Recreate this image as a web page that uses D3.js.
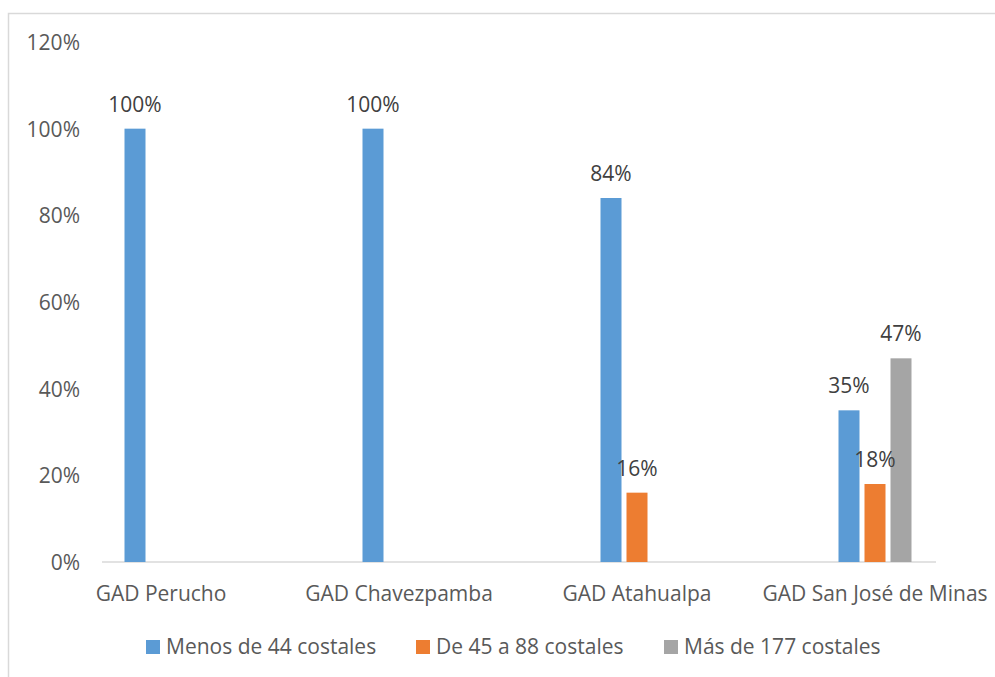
<!DOCTYPE html>
<html>
<head>
<meta charset="utf-8">
<script src="https://cdn.jsdelivr.net/npm/d3@7"></script>
<style>
  body { margin: 0; background: #fff; }
  text { font-family: "Open Sans", sans-serif; }
</style>
</head>
<body>
<div id="chart"></div>
<script>
// Chart data
const categories = ["GAD Perucho", "GAD Chavezpamba", "GAD Atahualpa", "GAD San José de Minas"];
const seriesNames = ["Menos de 44 costales", "De 45 a 88 costales", "Más de 177 costales"];
const menos44 = [1.00, 1.00, 0.84, 0.35];
const de45a88 = [0, 0, 0.16, 0.18];
const mas177 = [0, 0, 0, 0.47];
const yTicks = [0, 0.2, 0.4, 0.6, 0.8, 1.0, 1.2];

const seriesValues = [menos44, de45a88, mas177];
const colors = ["#5b9bd5", "#ed7d31", "#a5a5a5"];

const width = 995;
const height = 677;
const fontSize = "21px";

let svg = d3.select("#chart").append("svg")
            .attr("width", width)
            .attr("height", height)

// outer border
svg.append("rect")
   .attr("x", 8.5).attr("y", 13.5)
   .attr("width", 995).attr("height", 700)
   .attr("fill", "none")
   .attr("stroke", "#d9d9d9")
   .attr("stroke-width", 1.5)

let x0 = d3.scaleBand().domain(categories).range([42, 994])
let x1 = d3.scaleBand().domain(seriesNames)
           .range([x0.bandwidth() / 2 - 36.5, x0.bandwidth() / 2 + 36.5])
           .paddingInner(5 / 26)
let y = d3.scaleLinear().domain([0, 1.2]).range([562, 42])

// y axis labels
let yAxis = svg.append("g")
               .attr("transform", "translate(80,0)")
               .call(d3.axisLeft(y).tickValues(yTicks).tickFormat(d3.format(".0%")).tickSize(0).tickPadding(0))
yAxis.select(".domain").remove()
yAxis.selectAll("text")
     .attr("fill", "#595959")
     .style("font-size", fontSize)
     .attr("dy", "0.35em")

// baseline
svg.append("line")
   .attr("x1", 102).attr("x2", 936)
   .attr("y1", y(0)).attr("y2", y(0))
   .attr("stroke", "#d9d9d9")
   .attr("stroke-width", 1.5)

// bars
let rows = categories.map(function(c, i) {
    return seriesNames.map(function(s, j) {
        return {cat: c, series: s, value: seriesValues[j][i], color: colors[j]}
    })
})

let group = svg.selectAll("g.cat")
               .data(rows)
               .enter()
               .append("g")
               .attr("class", "cat")
               .attr("transform", function(d, i) {
                   return "translate(" + x0(categories[i]) + ",0)"
               })

group.selectAll("rect")
     .data(function(d) { return d.filter(function(e) { return e.value > 0 }) })
     .enter()
     .append("rect")
     .attr("x", function(d) { return x1(d.series) })
     .attr("width", x1.bandwidth())
     .attr("y", function(d) { return y(d.value) })
     .attr("height", function(d) { return y(0) - y(d.value) })
     .attr("fill", function(d) { return d.color })

// value labels
group.selectAll("text.val")
     .data(function(d) { return d.filter(function(e) { return e.value > 0 }) })
     .enter()
     .append("text")
     .attr("class", "val")
     .attr("x", function(d) { return x1(d.series) + x1.bandwidth() / 2 })
     .attr("y", function(d) { return y(d.value) - 17 })
     .attr("text-anchor", "middle")
     .attr("fill", "#404040")
     .style("font-size", fontSize)
     .text(function(d) { return d3.format(".0%")(d.value) })

// category labels
svg.selectAll("text.cat")
   .data(categories)
   .enter()
   .append("text")
   .attr("class", "cat")
   .attr("x", function(d) { return x0(d) + x0.bandwidth() / 2 })
   .attr("y", 601)
   .attr("text-anchor", "middle")
   .attr("fill", "#595959")
   .style("font-size", fontSize)
   .text(function(d) { return d })

// legend
const legendX = [146, 416, 664];
let legend = svg.selectAll("g.legend")
                .data(seriesNames)
                .enter()
                .append("g")
                .attr("class", "legend")
                .attr("transform", function(d, i) { return "translate(" + legendX[i] + ",640)" })

legend.append("rect")
      .attr("width", 14).attr("height", 14)
      .attr("fill", function(d, i) { return colors[i] })

legend.append("text")
      .attr("x", 20)
      .attr("y", 14)
      .attr("fill", "#595959")
      .style("font-size", fontSize)
      .text(function(d) { return d })
</script>
</body>
</html>
